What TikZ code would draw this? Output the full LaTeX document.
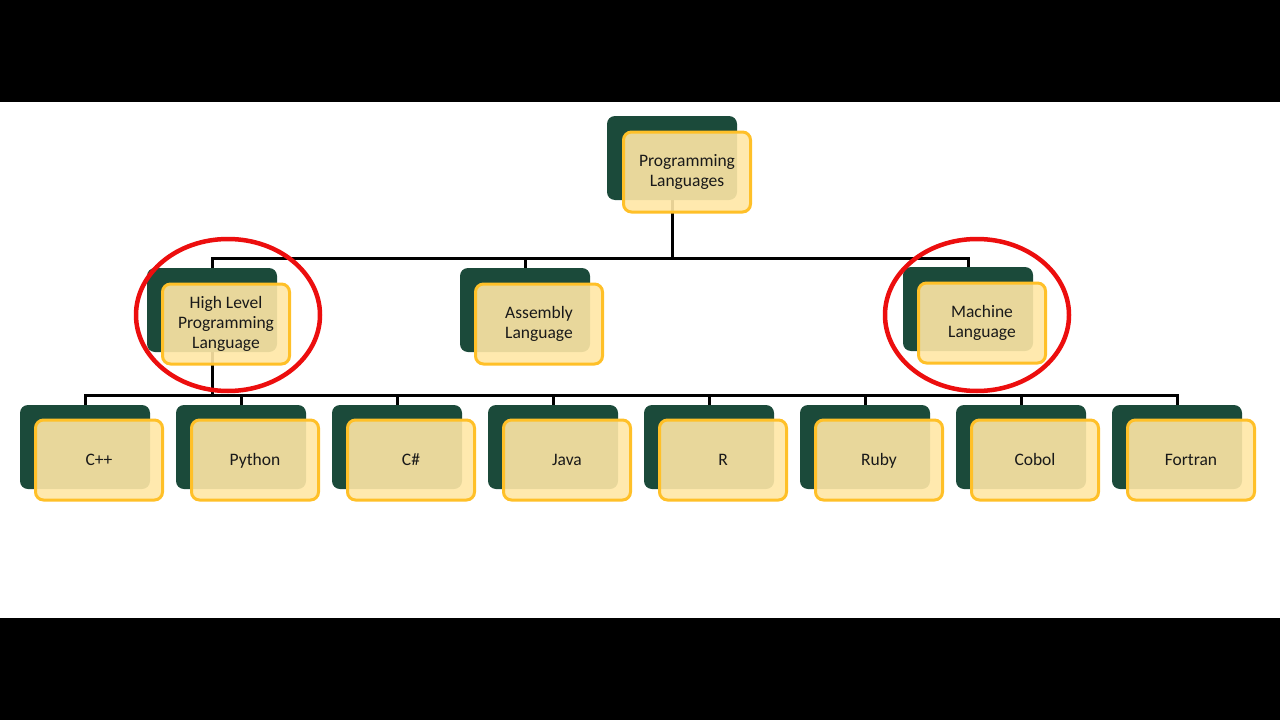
\documentclass[tikz,border=0pt]{standalone}
\usepackage{fontspec}
\setmainfont{Carlito}
\usetikzlibrary{positioning,calc}

\definecolor{pineshade}{RGB}{27,74,58}
\definecolor{goldedge}{RGB}{255,192,40}
\definecolor{goldfill}{RGB}{255,231,166}
\definecolor{ringred}{RGB}{236,14,14}

\pgfdeclarelayer{back}
\pgfdeclarelayer{wires}
\pgfsetlayers{back,wires,main}

\tikzset{
  shadebox/.style={fill=pineshade, rounded corners=8pt, minimum width=130pt,
    minimum height=84pt, inner sep=0pt},
  langbox/.style={draw=goldedge, line width=3pt, fill=goldfill, fill opacity=0.9,
    text opacity=1, rounded corners=8pt, minimum width=127pt, minimum height=80pt,
    inner sep=2pt, align=center, text=black!90, font=\fontsize{17.5}{20}\selectfont},
  leafbox/.style={langbox, text height=11.5pt, text depth=0pt},
  wire/.style={line width=3pt, black},
  ring/.style={draw=ringred, line width=4.5pt}
}

\begin{document}
\begin{tikzpicture}[x=1pt,y=-1pt]
\useasboundingbox (0,0) rectangle (1280,720);
\begin{pgfonlayer}{back}
  \fill[black] (0,0) rectangle (1280,720);
  \fill[white] (0,102) rectangle (1280,618);
\end{pgfonlayer}

% top
\node[shadebox] (rootsh) at (672,158) {};
\node[langbox] (root) at ([shift={(15,14)}]rootsh) {Programming\\Languages};

% second row
\node[shadebox] (highsh) at (212,310) {};
\node[langbox] (high) at ([shift={(14,14)}]highsh) {High Level\\Programming\\Language};
\node[shadebox] (asmsh) at (525,310) {};
\node[langbox] (asm) at ([shift={(14,14)}]asmsh) {Assembly\\Language};
\node[shadebox] (machsh) at (968,309) {};
\node[langbox] (mach) at ([shift={(14,14)}]machsh) {Machine\\Language};

% third row
\foreach \name/\txt [count=\i from 0] in {cpp/C++, py/Python, cs/C\#, java/Java,
    r/R, ruby/Ruby, cobol/Cobol, fortran/Fortran} {
  \node[shadebox] (\name sh) at (85+156*\i,447) {};
  \node[leafbox] (\name) at ([shift={(14,13)}]\name sh) {\txt};
}

\begin{pgfonlayer}{wires}
  \coordinate (hubtop) at (672,258);
  \coordinate (hublow) at (212,395);
  \draw[wire] (rootsh.south) -- (hubtop);
  \foreach \n in {highsh,asmsh,machsh}
    \draw[wire] (hubtop) -| (\n.north);
  \draw[wire] (highsh.south) -- (hublow);
  \foreach \n in {cppsh,pysh,cssh,javash,rsh,rubysh,cobolsh,fortransh}
    \draw[wire] (hublow) -| (\n.north);
\end{pgfonlayer}

% highlight rings
\draw[ring] (228,315) ellipse [x radius=92, y radius=76];
\draw[ring] (977,315) ellipse [x radius=92, y radius=76];
\end{tikzpicture}
\end{document}
